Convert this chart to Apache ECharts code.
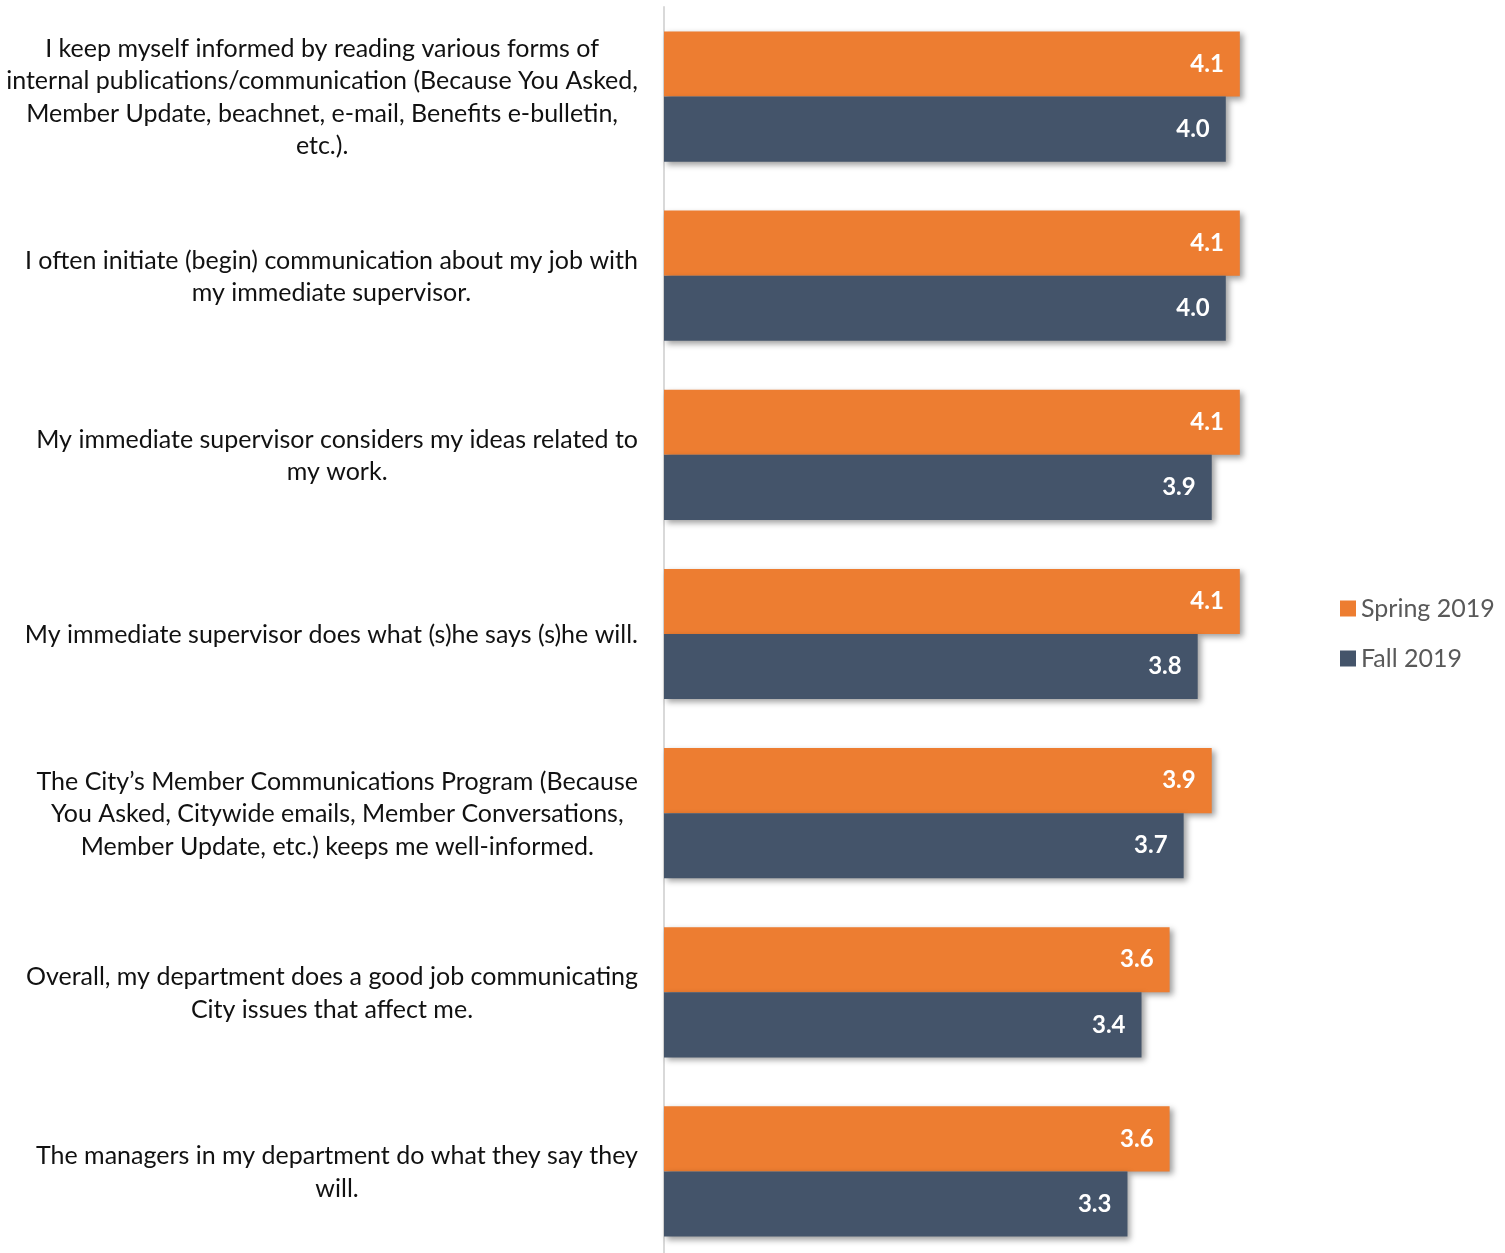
<!DOCTYPE html>
<html>
<head>
<meta charset="utf-8">
<style>
  html, body { margin: 0; padding: 0; background: #ffffff; }
  #chart { width: 1505px; height: 1253px; }
</style>
<script src="https://cdn.jsdelivr.net/npm/echarts@6/dist/echarts.min.js"></script>
</head>
<body>
<div id="chart"></div>
<script>
// Survey statements, wrapped as they appear beside the bars
const categories = [
  'I keep myself informed by reading various forms of\ninternal publications/communication (Because You Asked,\nMember Update, beachnet, e-mail, Benefits e-bulletin,\netc.).',
  'I often initiate (begin) communication about my job with\nmy immediate supervisor.',
  'My immediate supervisor considers my ideas related to\nmy work.',
  'My immediate supervisor does what (s)he says (s)he will.',
  'The City\u2019s Member Communications Program (Because\nYou Asked, Citywide emails, Member Conversations,\nMember Update, etc.) keeps me well-informed.',
  'Overall, my department does a good job communicating\nCity issues that affect me.',
  'The managers in my department do what they say they\nwill.'
];

const seriesNames = ['Spring 2019', 'Fall 2019'];
const spring2019 = [4.1, 4.1, 4.1, 4.1, 3.9, 3.6, 3.6];
const fall2019 = [4.0, 4.0, 3.9, 3.8, 3.7, 3.4, 3.3];

const chart = echarts.init(document.getElementById('chart'), null, { renderer: 'canvas' });

const barShadow = {
  shadowBlur: 6,
  shadowColor: 'rgba(0,0,0,0.38)',
  shadowOffsetX: 3,
  shadowOffsetY: 3
};

const valueLabel = {
  show: true,
  position: 'insideRight',
  distance: 16,
  color: '#ffffff',
  fontFamily: 'Lato',
  fontWeight: 'bold',
  fontSize: 24,
  formatter: p => p.value.toFixed(1)
};

chart.setOption({
  backgroundColor: '#ffffff',
  animation: false,
  grid: {
    left: 664,
    width: 632,
    top: 7,
    height: 1254,
    containLabel: false,
    outerBoundsMode: 'none'
  },
  legend: {
    orient: 'vertical',
    left: 1340,
    top: 596,
    padding: 0,
    icon: 'rect',
    itemWidth: 16,
    itemHeight: 16,
    itemGap: 25,
    textStyle: { fontFamily: 'Lato', fontSize: 25, lineHeight: 25, color: '#595959' },
    data: seriesNames
  },
  xAxis: {
    type: 'value',
    min: 0,
    max: 4.5,
    show: false,
    splitLine: { show: false }
  },
  yAxis: {
    type: 'category',
    inverse: true,
    data: categories,
    axisLine: { show: true, lineStyle: { color: '#D9D9D9', width: 2 } },
    axisTick: { show: false },
    axisLabel: {
      margin: 26,
      formatter: v => v.split('\n').map(line => '{t|' + line + '}').join('\n'),
      rich: {
        t: {
          align: 'center',
          fontFamily: 'Lato',
          fontSize: 25,
          lineHeight: 32.5,
          padding: [2, 0, 0, 0],
          color: '#111111'
        }
      }
    }
  },
  series: [
    {
      name: seriesNames[0],
      type: 'bar',
      data: spring2019,
      barGap: '0%',
      barCategoryGap: '27.3%',
      itemStyle: Object.assign({ color: '#ED7D31' }, barShadow),
      label: valueLabel
    },
    {
      name: seriesNames[1],
      type: 'bar',
      data: fall2019,
      barGap: '0%',
      barCategoryGap: '27.3%',
      itemStyle: Object.assign({ color: '#44546A' }, barShadow),
      label: valueLabel
    }
  ]
});
</script>
</body>
</html>
